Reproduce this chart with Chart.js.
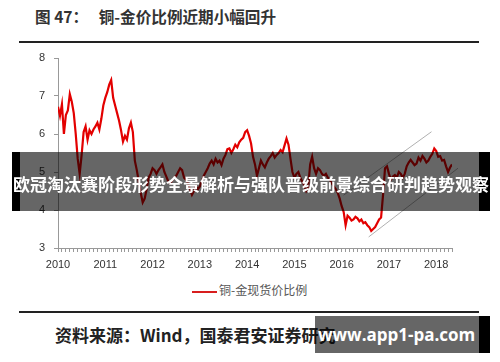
<!DOCTYPE html>
<html lang="zh">
<head>
    <meta charset="UTF-8">
    <title>铜-金价比例</title>
    <script src="https://cdn.jsdelivr.net/npm/chart.js"></script>
    <style>
        body {
            margin: 0;
            width: 500px;
            height: 362px;
            background: #fff;
            position: relative;
            overflow: hidden;
            font-family: "Noto Sans CJK SC", "Liberation Sans", sans-serif;
        }
        .title {
            position: absolute;
            left: 35px;
            top: 5px;
            font-size: 15.6px;
            font-weight: bold;
            color: #333;
            white-space: pre;
        }
        .rule {
            position: absolute;
            left: 19px;
            width: 460px;
            background: #222;
        }
        #ratioChart {
            position: absolute;
            left: 0;
            top: 40px;
        }
        .legend {
            position: absolute;
            left: 192px;
            top: 281px;
            font-size: 12px;
            color: #555;
            line-height: 18px;
            white-space: nowrap;
        }
        .legend i {
            display: inline-block;
            width: 25px;
            height: 2px;
            background: #d81e1e;
            vertical-align: middle;
            margin-right: 2px;
        }
        .source {
            position: absolute;
            left: 55px;
            top: 322px;
            font-size: 17px;
            font-weight: bold;
            color: #222;
            white-space: nowrap;
        }
        .banner {
            position: absolute;
            left: 12px;
            top: 152px;
            width: 478px;
            height: 59px;
            background: rgba(0,0,0,0.6);
            border-left: 8px solid #000;
            border-right: 11px solid #000;
            box-sizing: border-box;
        }
        .banner span {
            position: absolute;
            left: -7px;
            top: 22px;
            font-size: 17px;
            font-weight: bold;
            color: #fff;
            white-space: nowrap;
            line-height: 20px;
        }
        .mark {
            position: absolute;
            left: 315px;
            top: 316px;
            width: 175px;
            height: 37px;
            background: rgba(0,0,0,0.6);
            border-right: 11px solid #000;
            box-sizing: border-box;
        }
        .mark span {
            position: absolute;
            left: 3px;
            top: 7px;
            font-family: "Open Sans", "DejaVu Sans", sans-serif;
            font-size: 17px;
            font-weight: bold;
            color: #fff;
            white-space: nowrap;
        }
    </style>
</head>
<body>
    <div class="title">图 47：   铜-金价比例近期小幅回升</div>
    <div class="rule" style="top:41px;height:2px;"></div>
    <canvas id="ratioChart" width="500" height="240"></canvas>
    <div class="legend" id="legend"></div>
    <div class="rule" style="top:311px;height:1.5px;"></div>
    <div class="source">资料来源：Wind，国泰君安证券研究</div>
    <div class="banner"><span>欧冠淘汰赛阶段形势全景解析与强队晋级前景综合研判趋势观察</span></div>
    <div class="mark"><span>www.app1-pa.com</span></div>

    <script>
        // copper / gold spot price ratio, sampled twice a month from Jan 2010
        const startYear = 2010;
        const perYear = 24;
        const ratio = [
            6.72, 6.48, 6.78, 6.00, 6.50, 6.62, 7.05, 6.85, 6.55, 6.00, 5.35, 4.95,
            5.45, 6.05, 6.20, 5.85, 6.10, 6.00, 6.12, 6.20, 6.30, 6.12, 6.40, 6.75,
            6.95, 7.10, 7.30, 7.42, 6.95, 6.75, 6.55, 6.35, 6.10, 5.80, 5.95, 5.85,
            6.15, 6.30, 6.05, 5.30, 5.05, 4.75, 4.45, 4.20, 4.30, 4.55, 4.85, 4.95,
            5.10, 5.05, 4.95, 5.05, 5.12, 5.20, 5.00, 4.88, 4.75, 4.70, 4.78, 4.85,
            4.90, 5.00, 5.10, 5.05, 4.85, 4.80, 4.70, 4.55, 4.40, 4.50, 4.62, 4.55,
            4.62, 4.75, 4.90, 5.00, 5.10, 5.22, 5.30, 5.20, 5.35, 5.25, 5.30, 5.18,
            5.35, 5.45, 5.60, 5.62, 5.50, 5.60, 5.72, 5.65, 5.78, 5.85, 5.90, 6.05,
            6.10, 5.95, 5.75, 5.40, 5.20, 4.90, 5.10, 5.30, 5.20, 5.12, 5.25, 5.35,
            5.42, 5.50, 5.38, 5.45, 5.50, 5.58, 5.52, 5.70, 5.88, 5.72, 5.35, 5.00,
            4.85, 4.95, 5.00, 4.85, 4.75, 4.65, 4.50, 4.60, 5.20, 5.40, 5.10, 4.95,
            5.10, 5.05, 4.95, 4.90, 4.95, 4.85, 4.80, 4.70, 4.62, 4.55, 4.45, 4.30,
            4.10, 3.95, 3.60, 3.85, 3.80, 3.72, 3.75, 3.82, 3.78, 3.70, 3.75, 3.65,
            3.68, 3.60, 3.55, 3.45, 3.50, 3.55, 3.65, 3.75, 3.80, 4.40, 5.10, 5.15,
            4.95, 4.80, 4.88, 4.92, 4.85, 5.00, 4.95, 4.85, 4.95, 5.15, 5.25, 5.32,
            5.25, 5.18, 5.22, 5.38, 5.30, 5.42, 5.35, 5.25, 5.30, 5.40, 5.48, 5.62,
            5.55, 5.40, 5.42, 5.30, 5.32, 5.15, 5.00, 5.12, 5.20
        ];
        // rising channel drawn by hand on the chart: [year, ratio]
        const upperTrend = [[2016.04, 4.39], [2017.90, 6.06]];
        const lowerTrend = [[2016.57, 3.29], [2018.46, 5.10]];
        const yearLabels = [2010, 2011, 2012, 2013, 2014, 2015, 2016, 2017, 2018];
        const seriesName = '铜-金现货价比例';

        const ratioPoints = ratio.map((v, i) => ({ x: startYear + i / perYear, y: v }));
        const lastX = startYear + (ratio.length - 1) / perYear;

        const monthTicks = [];
        for (let m = 0; startYear + m / 12 <= lastX + 0.001; m++) {
            monthTicks.push(startYear + m / 12);
        }

        document.getElementById('legend').innerHTML = '<i></i>' + seriesName;

        const axisFont = { family: '"Liberation Sans", "Noto Sans CJK SC", sans-serif', size: 11 };

        new Chart(document.getElementById('ratioChart'), {
            type: 'line',
            data: {
                datasets: [
                    {
                        label: seriesName,
                        data: ratioPoints,
                        borderColor: '#e30000',
                        borderWidth: 2.2,
                        pointRadius: 0
                    },
                    {
                        label: 'upper',
                        data: upperTrend.map(p => ({ x: p[0], y: p[1] })),
                        borderColor: '#b0b0b0',
                        borderWidth: 1,
                        pointRadius: 0,
                        clip: false
                    },
                    {
                        label: 'lower',
                        data: lowerTrend.map(p => ({ x: p[0], y: p[1] })),
                        borderColor: '#b0b0b0',
                        borderWidth: 1,
                        pointRadius: 0,
                        clip: false
                    }
                ]
            },
            options: {
                responsive: false,
                animation: false,
                layout: { padding: { left: 18, right: 48, top: 18, bottom: 8 } },
                scales: {
                    x: {
                        type: 'linear',
                        min: startYear,
                        max: lastX,
                        afterBuildTicks: s => { s.ticks = monthTicks.map(v => ({ value: v })); },
                        afterFit: s => { s.height = 24; },
                        grid: { drawOnChartArea: false, tickLength: 4, color: '#999' },
                        border: { color: '#999' },
                        ticks: {
                            autoSkip: false,
                            maxRotation: 0,
                            minRotation: 0,
                            padding: 6,
                            color: '#333',
                            font: axisFont,
                            callback: v => {
                                const y = Math.round(v);
                                return Math.abs(v - y) < 0.001 && yearLabels.includes(y) ? String(y) : '';
                            }
                        }
                    },
                    y: {
                        min: 3,
                        max: 8,
                        afterFit: s => { s.width = 40; },
                        grid: { drawOnChartArea: false, tickLength: 4, color: '#999' },
                        border: { color: '#999' },
                        ticks: { stepSize: 1, padding: 9, color: '#333', font: axisFont }
                    }
                },
                plugins: {
                    legend: { display: false },
                    tooltip: { enabled: false }
                }
            }
        });
    </script>
</body>
</html>
